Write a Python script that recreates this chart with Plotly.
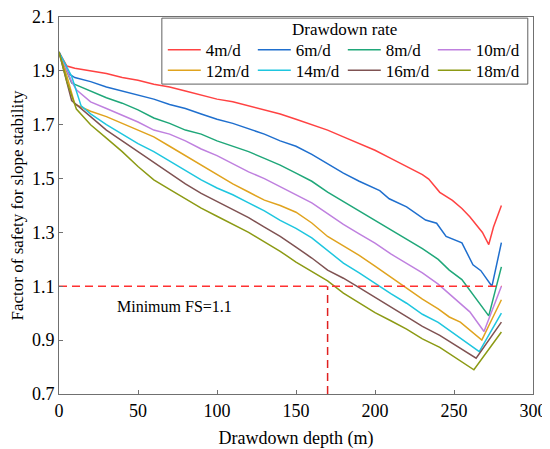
import plotly.graph_objects as go

# drawdown rates (legend) and line colours
rates = ["4m/d", "6m/d", "8m/d", "10m/d", "12m/d", "14m/d", "16m/d", "18m/d"]
colors = ["#ff4242", "#1f6fce", "#1fa779", "#bf80df", "#e0a31e", "#1ec6df", "#7f5252", "#8c9a14"]

# axis ticks
x_ticks = [0, 50, 100, 150, 200, 250, 300]
y_ticks = [0.7, 0.9, 1.1, 1.3, 1.5, 1.7, 1.9, 2.1]

# factor of safety vs drawdown depth
d_4 = [0, 5, 10, 20, 30, 40, 50, 60, 70, 80, 90, 100, 110, 120, 130, 140, 150, 160, 170, 180,
       190, 200, 210, 220, 230, 234, 241, 249, 255, 260, 265, 268, 272, 275, 280]
fs_4 = [1.97, 1.918, 1.91, 1.90, 1.89, 1.875, 1.865, 1.85, 1.84, 1.825, 1.81, 1.795, 1.785, 1.77, 1.755,
        1.74, 1.72, 1.70, 1.68, 1.655, 1.63, 1.605, 1.575, 1.545, 1.515, 1.498, 1.449, 1.419, 1.389,
        1.358, 1.322, 1.30, 1.255, 1.32, 1.40]

d_6 = [0, 6, 10, 20, 30, 40, 50, 60, 70, 80, 90, 100, 110, 120, 130, 140, 150, 160, 170, 180,
       190, 203, 209, 220, 232, 239, 245, 255, 262, 267, 270, 274, 280]
fs_6 = [1.97, 1.89, 1.875, 1.86, 1.84, 1.825, 1.81, 1.795, 1.775, 1.76, 1.74, 1.72, 1.705, 1.685, 1.665,
        1.64, 1.62, 1.59, 1.555, 1.52, 1.49, 1.455, 1.425, 1.395, 1.346, 1.334, 1.285, 1.261, 1.18,
        1.158, 1.133, 1.10, 1.262]

d_8 = [0, 8, 10, 20, 30, 40, 50, 60, 70, 80, 90, 100, 110, 120, 130, 140, 150, 160, 170, 180,
       190, 200, 210, 220, 230, 240, 247, 255, 272, 280]
fs_8 = [1.97, 1.855, 1.85, 1.825, 1.80, 1.78, 1.755, 1.725, 1.705, 1.68, 1.665, 1.64, 1.62, 1.60, 1.575,
        1.55, 1.52, 1.49, 1.45, 1.415, 1.38, 1.345, 1.31, 1.275, 1.24, 1.20, 1.16, 1.125, 0.99, 1.172]

d_10 = [0, 8, 11, 20, 30, 40, 50, 60, 70, 80, 90, 100, 110, 120, 130, 140, 150, 160, 170, 180,
        190, 200, 210, 220, 230, 240, 253, 260, 269, 280]
fs_10 = [1.97, 1.86, 1.83, 1.785, 1.76, 1.735, 1.71, 1.68, 1.665, 1.64, 1.61, 1.585, 1.555, 1.525, 1.50,
         1.47, 1.44, 1.41, 1.37, 1.33, 1.295, 1.26, 1.22, 1.185, 1.15, 1.108, 1.042, 1.005, 0.932, 1.10]

d_12 = [0, 5, 10, 20, 30, 40, 50, 60, 70, 80, 90, 100, 110, 120, 130, 140, 150, 160, 170, 180,
        190, 200, 210, 220, 230, 240, 247, 254, 267.6, 280]
fs_12 = [1.97, 1.88, 1.776, 1.75, 1.73, 1.705, 1.68, 1.655, 1.62, 1.585, 1.55, 1.515, 1.48, 1.45, 1.42,
         1.40, 1.375, 1.335, 1.285, 1.25, 1.215, 1.175, 1.135, 1.095, 1.052, 1.016, 0.986, 0.967, 0.90, 1.05]

d_14 = [0, 8, 14, 20, 30, 40, 50, 60, 70, 80, 90, 100, 110, 120, 130, 140, 150, 160, 170, 180,
        190, 200, 210, 220, 230, 240, 266, 280]
fs_14 = [1.97, 1.88, 1.77, 1.74, 1.70, 1.665, 1.63, 1.60, 1.565, 1.53, 1.495, 1.465, 1.44, 1.41, 1.38,
         1.345, 1.315, 1.28, 1.232, 1.186, 1.15, 1.11, 1.073, 1.037, 0.996, 0.966, 0.857, 1.0]

d_16 = [0, 8, 20, 30, 40, 50, 60, 70, 80, 90, 100, 110, 120, 130, 140, 150, 160, 170, 180,
        190, 200, 210, 220, 230, 241, 264, 280]
fs_16 = [1.97, 1.79, 1.73, 1.68, 1.64, 1.60, 1.56, 1.52, 1.48, 1.445, 1.415, 1.385, 1.355, 1.32, 1.285,
         1.245, 1.205, 1.16, 1.13, 1.095, 1.058, 1.022, 0.987, 0.951, 0.918, 0.833, 0.967]

d_18 = [0, 5, 11, 20, 30, 40, 50, 60, 70, 80, 90, 100, 110, 120, 130, 140, 150, 160, 170, 180,
        190, 200, 210, 220, 230, 241, 262.6, 280]
fs_18 = [1.97, 1.86, 1.758, 1.70, 1.65, 1.60, 1.545, 1.495, 1.46, 1.425, 1.39, 1.36, 1.33, 1.30, 1.265,
         1.23, 1.19, 1.155, 1.12, 1.075, 1.038, 1.002, 0.972, 0.941, 0.905, 0.873, 0.79, 0.93]

depths = [d_4, d_6, d_8, d_10, d_12, d_14, d_16, d_18]
fs_all = [fs_4, fs_6, fs_8, fs_10, fs_12, fs_14, fs_16, fs_18]

# minimum FS guide line
min_fs = 1.1
min_depth = 170
max_depth = 280

font = "Liberation Serif, Times New Roman, DejaVu Serif, serif"
fig = go.Figure()

for i in range(len(rates)):
    fig.add_trace(go.Scatter(x=depths[i], y=fs_all[i], mode="lines", name=rates[i],
                             line=dict(color=colors[i], width=1.5),
                             legend="legend" if i < 4 else "legend2"))

fig.add_trace(go.Scatter(x=[0, max_depth], y=[min_fs, min_fs], mode="lines", showlegend=False,
                         line=dict(color="#ff3030", width=1.5, dash="8px,5px")))
fig.add_trace(go.Scatter(x=[min_depth, min_depth], y=[y_ticks[0], min_fs], mode="lines", showlegend=False,
                         line=dict(color="#e02020", width=1.5, dash="8px,5px")))

fig.add_annotation(x=73, y=1.025, text="Minimum FS=1.1", showarrow=False,
                   font=dict(family=font, size=16, color="black"))

# legend frame and title
fig.add_shape(type="rect", xref="paper", yref="paper", x0=0.217, x1=0.989, y0=0.822, y1=0.997,
              line=dict(color="#606060", width=1), fillcolor="rgba(0,0,0,0)")
fig.add_annotation(xref="paper", yref="paper", x=0.603, y=0.966, text="Drawdown rate",
                   xanchor="center", yanchor="middle", showarrow=False,
                   font=dict(family=font, size=17, color="black"))

# the page adds an 8px body margin, so the figure is 8px smaller than the window
fig.update_layout(
    width=542, height=441,
    margin=dict(l=51, r=17, t=9, b=55),
    plot_bgcolor="white", paper_bgcolor="white",
    font=dict(family=font, size=17, color="black"),
    legend=dict(orientation="h", x=0.219, y=0.960, xanchor="left", yanchor="top",
                entrywidth=42, itemwidth=33, font=dict(size=17), bgcolor="rgba(0,0,0,0)"),
    legend2=dict(orientation="h", x=0.219, y=0.905, xanchor="left", yanchor="top",
                 entrywidth=42, itemwidth=33, font=dict(size=17), bgcolor="rgba(0,0,0,0)"),
    xaxis=dict(range=[x_ticks[0], x_ticks[-1]], tickvals=x_ticks, showline=True, mirror=True,
               linecolor="#707070", ticks="inside", ticklen=4, tickcolor="#707070",
               showgrid=False, zeroline=False, automargin=False, tickfont=dict(size=18),
               title=dict(text="Drawdown depth (m)", font=dict(size=18), standoff=16)),
    yaxis=dict(range=[y_ticks[0], y_ticks[-1]], tickvals=y_ticks, showline=True, mirror=True,
               linecolor="#707070", ticks="inside", ticklen=4, tickcolor="#707070",
               showgrid=False, zeroline=False, automargin=False, tickformat=".1f", tickfont=dict(size=18),
               ticklabeloverflow="allow",
               title=dict(text="Factor of safety for slope stability", font=dict(size=17), standoff=13)),
)

fig.write_html("out.html")
